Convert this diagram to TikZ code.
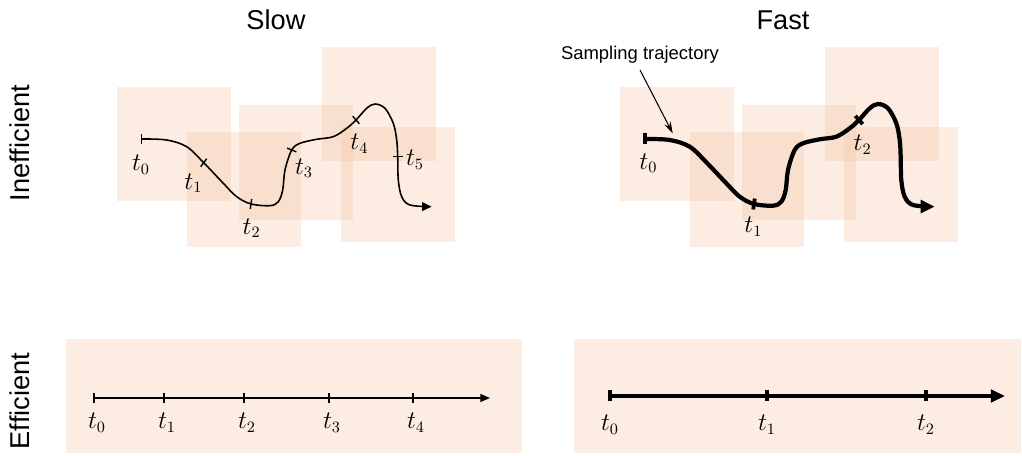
\documentclass[tikz,border=0pt]{standalone}
\usepackage{amsmath}
\usepackage{fontspec}
\setmainfont{Liberation Sans}
\usetikzlibrary{arrows.meta}
\definecolor{peach}{RGB}{245,200,170}
\tikzset{
  patch/.style={fill=peach,fill opacity=0.35,draw=none},
  slowtick/.style={fill=black,inner sep=0pt,outer sep=0pt,minimum width=0.8pt,minimum height=0.2cm},
  fasttick/.style={fill=black,inner sep=0pt,outer sep=0pt,minimum width=2.2pt,minimum height=0.22cm},
  tlab/.style={font=\fontsize{13.5}{16}\selectfont},
  title/.style={font=\fontsize{15.5}{18}\selectfont,anchor=base},
}
\begin{document}
\begin{tikzpicture}[x=0.02cm,y=0.02cm]
\useasboundingbox (0,0) rectangle (1022,456);
\node[title] (slow) at (276,426) {Slow};
\node[title] (fast) at (783,426) {Fast};
\node[title,rotate=90] (ineff) at (30,313) {Inefficient};
\node[title,rotate=90] (eff) at (30,55) {Efficient};
\foreach \dx/\lw/\al in {0/0.9pt/5.5pt,503/2.4pt/8pt}{
  \begin{scope}[shift={(\dx,0)}]
    \foreach \a/\b/\c/\d in {117/255/231/369,187/209/301/324,239/236/353/351,322/295/436/409,341/214/455/329}
      \fill[patch] (\a,\b) rectangle (\c,\d);
    \draw[line width=\lw,-{Triangle[length=\al,width=0.9*\al]}] plot[smooth,tension=0.55] coordinates {
      (141.7,317) (166.7,316) (186.7,309.3) (203.7,293.3) (223.3,272.7) (236.7,259.3) (251,252)
      (270,250.3) (278.3,254.3) (282.7,266) (285,286) (291.7,306) (300,312.7) (316.7,316.7)
      (333.3,319.3) (346.7,327.7) (356,336) (366.7,347.7) (375,352) (385,347.7) (393.3,332.7)
      (396.7,316) (397.7,299.3) (398.3,276) (401.7,259.3) (410,251) (431.7,249.3)};
  \end{scope}
}
\foreach \x/\y/\r/\n/\lx/\ly in {141.7/317/0/0/141/291,203.7/293.3/-37/1/193.3/272.7,251/252/-8/2/251.7/227.7,291.7/306/68/3/304/287.7,356/336/42/4/359.3/312,397.7/299.3/-90/5/415/296}{
  \node[slowtick,rotate=\r] (s\n) at (\x,\y) {};
  \node[tlab] (ls\n) at (\lx,\ly) {$t_\n$};
}
\foreach \x/\y/\r/\n/\lx/\ly in {644.7/317/0/0/648.3/292.7,754/252/-8/1/753.3/229.3,859/336/42/2/862.7/311}{
  \node[fasttick,rotate=\r] (f\n) at (\x,\y) {};
  \node[tlab] (lf\n) at (\lx,\ly) {$t_\n$};
}
\node[font=\fontsize{10.5}{12}\selectfont,anchor=base] (samp) at (640,396) {Sampling trajectory};
\coordinate (samptip) at (672.7,322.7);
\draw[semithick,-{Stealth[length=6.5pt,width=4pt]}] (samp.south) -- (samptip);
\foreach \a/\c in {66/294,294/522,574/1021}
  \fill[patch] (\a,3) rectangle (\c,117);
\foreach \x/\n in {94/0,164/1,244/2,329/3,413/4}{
  \node[slowtick] (e\n) at (\x,58) {};
  \node[tlab] (le\n) at (\x+3,33) {$t_\n$};
}
\coordinate (eend) at (490,58);
\draw[line width=0.9pt,-{Triangle[length=5.5pt,width=4.5pt]}] (e0.center) -- (eend);
\foreach \x/\n in {610/0,767/1,926/2}{
  \node[fasttick] (g\n) at (\x,60) {};
  \node[tlab] (lg\n) at (\x,31) {$t_\n$};
}
\coordinate (gend) at (1005,60);
\draw[line width=2.4pt,-{Triangle[length=8pt,width=7pt]}] (g0.center) -- (gend);
\end{tikzpicture}
\end{document}
